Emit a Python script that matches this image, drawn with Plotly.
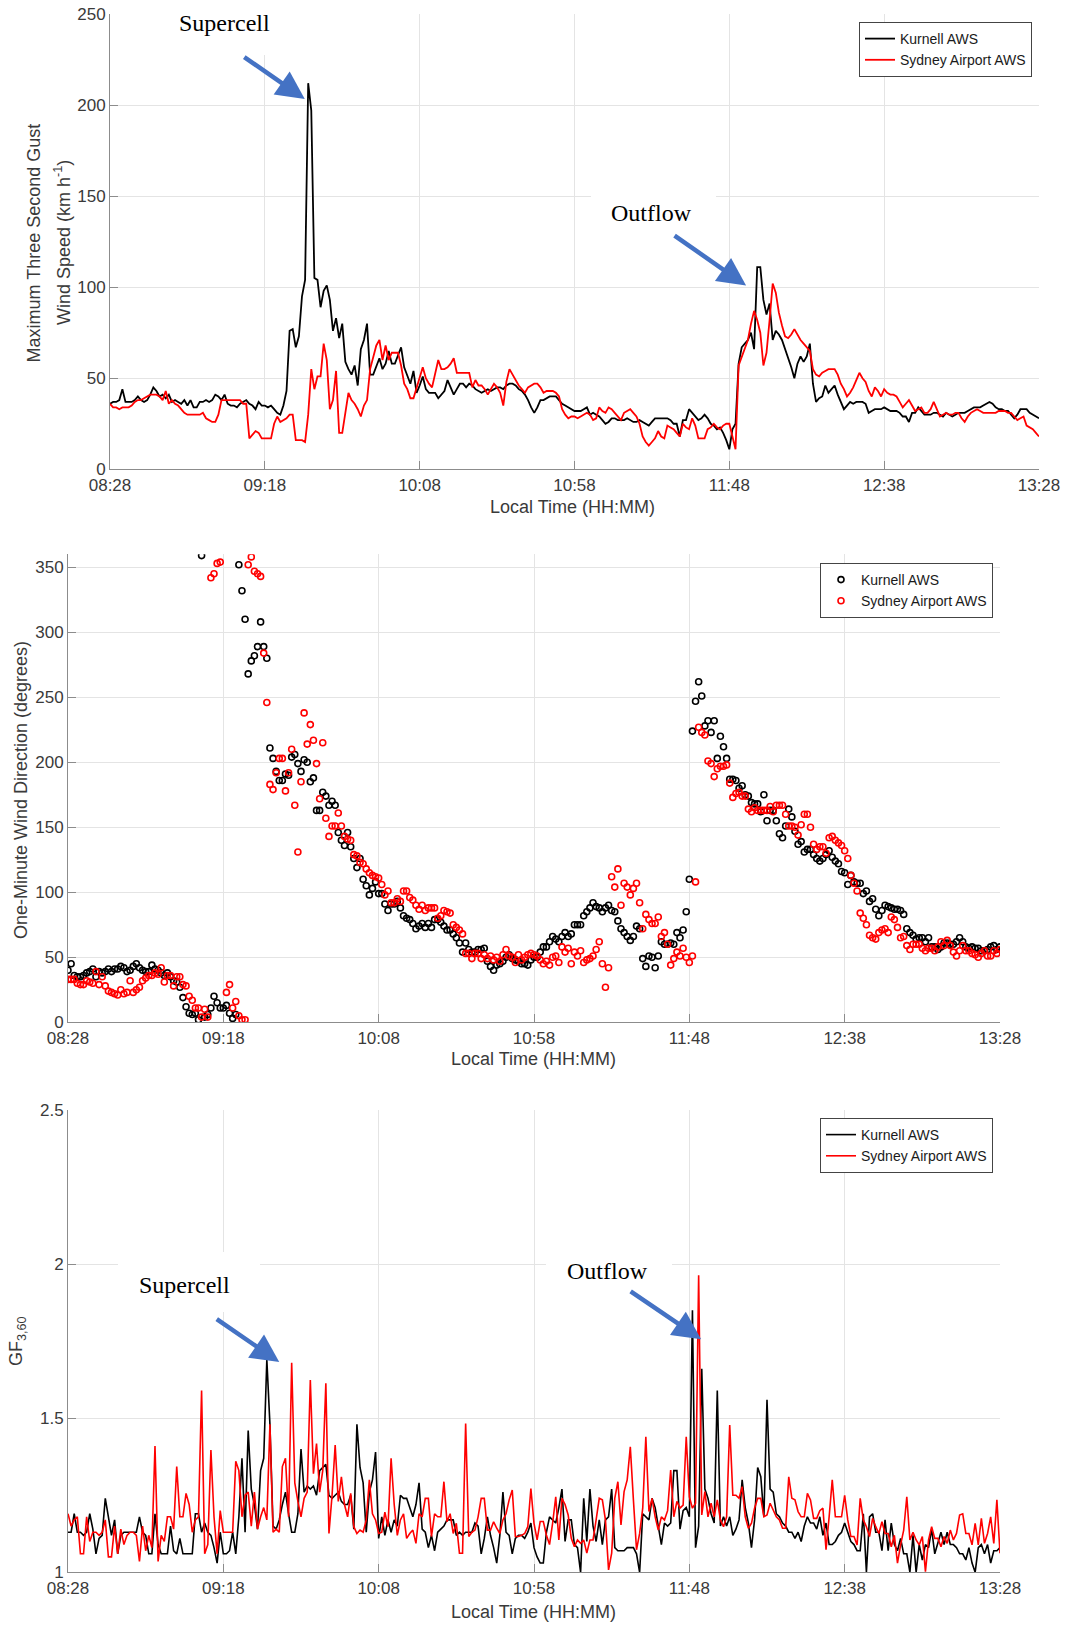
import plotly.graph_objects as go

W, H = 1066, 1629

# ---------------- data (one value per minute, 08:28 .. 13:28) ----------------
minutes = list(range(301))
tick_vals = [0, 50, 100, 150, 200, 250, 300]
tick_text = ["08:28", "09:18", "10:08", "10:58", "11:48", "12:38", "13:28"]

kurnell_gust = [
    36, 37, 37, 38, 44, 37, 37, 37, 38, 40,
    38, 37, 38, 41, 45, 43, 40, 41, 39, 41,
    37, 38, 37, 36, 38, 35, 38, 34, 34, 37,
    37, 38, 37, 38, 41, 40, 38, 41, 36, 35,
    35, 34, 36, 37, 38, 36, 35, 33, 37, 35,
    35, 34, 35, 33, 31, 30, 35, 43, 76, 77,
    67, 73, 95, 104, 212, 197, 105, 104, 89, 98,
    101, 93, 76, 83, 72, 80, 59, 55, 52, 57,
    46, 66, 71, 80, 52, 52, 56, 61, 55, 58,
    65, 58, 58, 62, 67, 56, 52, 47, 54, 42,
    46, 51, 44, 42, 42, 42, 39, 41, 43, 49,
    45, 41, 44, 47, 47, 45, 47, 46, 44, 43,
    42, 43, 44, 43, 44, 45, 45, 44, 46, 47,
    47, 46, 44, 43, 41, 38, 34, 31, 34, 38,
    38, 39, 40, 40, 40, 38, 36, 35, 34, 33,
    32, 32, 32, 33, 34, 30, 31, 30, 29, 27,
    25, 26, 28, 28, 27, 27, 27, 28, 27, 26,
    26, 27, 26, 25, 24, 26, 28, 28, 28, 28,
    28, 27, 25, 25, 18, 27, 27, 33, 31, 29,
    27, 28, 30, 28, 25, 24, 22, 23, 20, 16,
    11, 22, 25, 58, 67, 69, 71, 75, 66, 111,
    111, 93, 85, 91, 71, 76, 74, 71, 66, 62,
    56, 50, 58, 62, 59, 62, 69, 47, 37, 39,
    40, 46, 42, 44, 46, 41, 37, 33, 35, 37,
    36, 37, 37, 37, 36, 31, 32, 33, 33, 33,
    34, 33, 32, 32, 32, 31, 29, 29, 26, 31,
    31, 34, 32, 30, 30, 30, 31, 31, 30, 29,
    31, 30, 29, 30, 31, 31, 31, 32, 33, 34,
    34, 34, 35, 36, 37, 36, 34, 33, 33, 32,
    32, 30, 28, 30, 33, 33, 33, 31, 30, 29,
    28,
]

sydney_gust = [
    36, 34, 34, 33, 34, 34, 34, 35, 37, 38,
    38, 39, 40, 41, 41, 41, 40, 38, 43, 36,
    38, 36, 35, 33, 31, 30, 30, 30, 30, 30,
    31, 28, 27, 26, 26, 30, 38, 38, 38, 38,
    38, 38, 38, 36, 36, 17, 19, 21, 20, 17,
    17, 17, 17, 25, 29, 26, 27, 28, 30, 30,
    16, 16, 16, 15, 30, 55, 44, 51, 51, 69,
    60, 33, 38, 54, 20, 20, 30, 42, 38, 36,
    33, 29, 35, 38, 55, 62, 68, 71, 60, 68,
    60, 64, 64, 64, 57, 47, 44, 39, 39, 45,
    50, 56, 50, 47, 45, 52, 60, 55, 55, 56,
    58, 61, 53, 53, 53, 53, 53, 45, 49, 46,
    46, 44, 41, 44, 47, 45, 42, 35, 48, 55,
    52, 49, 46, 44, 42, 45, 46, 47, 47, 45,
    42, 43, 43, 43, 42, 40, 33, 30, 28, 29,
    29, 28, 29, 30, 31, 30, 27, 28, 34, 32,
    31, 34, 33, 31, 29, 27, 31, 32, 33, 31,
    29, 25, 18, 15, 13, 15, 17, 21, 18, 17,
    24, 23, 22, 20, 18, 25, 23, 22, 28, 24,
    17, 17, 17, 22, 23, 25, 23, 22, 24, 25,
    25, 18, 11, 57, 62, 67, 71, 80, 87, 82,
    75, 57, 64, 82, 102, 97, 86, 79, 73, 72,
    74, 77, 74, 71, 69, 67, 65, 55, 52, 51,
    53, 54, 55, 55, 55, 52, 47, 44, 40, 42,
    45, 49, 53, 50, 48, 43, 40, 45, 43, 40,
    44, 42, 41, 41, 40, 37, 34, 36, 38, 35,
    32, 33, 34, 31, 31, 33, 37, 33, 29, 30,
    31, 30, 30, 31, 31, 28, 26, 29, 31, 32,
    33, 32, 31, 31, 31, 31, 31, 32, 32, 32,
    31, 31, 29, 27, 28, 29, 24, 23, 22, 20,
    18,
]

kurnell_dir = [
    40, 45, 36, 35, 35, 36, 38, 39, 41, 35,
    39, 38, 39, 41, 39, 41, 41, 43, 42, 39,
    40, 43, 45, 42, 40, 39, 39, 44, 41, 40,
    38, 36, 38, 35, 32, 31, 27, 19, 12, 7,
    6, 7, 2, 359, 4, 6, 11, 20, 15, 11,
    11, 13, 7, 3, 6, 352, 332, 310, 268, 278,
    282, 289, 308, 289, 280, 211, 203, 193, 186, 186,
    191, 190, 204, 206, 199, 193, 202, 200, 185, 188,
    163, 163, 177, 174, 167, 170, 167, 146, 140, 136,
    146, 135, 126, 119, 126, 110, 105, 98, 103, 108,
    99, 99, 91, 86, 91, 91, 93, 88, 82, 80,
    79, 76, 72, 74, 76, 73, 76, 73, 79, 79,
    77, 74, 71, 71, 68, 65, 61, 54, 61, 56,
    54, 54, 56, 56, 57, 47, 43, 40, 44, 45,
    47, 50, 52, 49, 48, 47, 45, 45, 44, 48,
    50, 50, 54, 58, 58, 62, 66, 64, 62, 66,
    69, 66, 68, 75, 75, 75, 82, 85, 88, 92,
    89, 88, 85, 88, 90, 86, 85, 78, 72, 69,
    66, 63, 66, 74, 72, 49, 43, 51, 50, 42,
    51, 62, 60, 60, 61, 60, 69, 65, 71, 85,
    110, 224, 247, 262, 251, 228, 232, 223, 232, 203,
    220, 212, 203, 187, 187, 186, 180, 182, 175, 174,
    169, 168, 168, 162, 175, 155, 163, 163, 155, 145,
    142, 151, 164, 158, 147, 137, 139, 131, 133, 133,
    129, 126, 124, 126, 129, 132, 127, 124, 122, 116,
    115, 106, 113, 108, 107, 107, 99, 101, 93, 95,
    87, 82, 86, 90, 89, 88, 87, 87, 86, 83,
    72, 69, 67, 64, 65, 65, 62, 65, 58, 58,
    56, 58, 61, 61, 60, 60, 62, 65, 62, 58,
    57, 58, 57, 57, 55, 55, 56, 58, 59, 56,
    58,
]

sydney_dir = [
    33, 33, 33, 30, 29, 29, 32, 31, 30, 39,
    29, 35, 28, 24, 23, 22, 21, 25, 22, 23,
    32, 23, 25, 27, 32, 34, 36, 36, 38, 37,
    42, 31, 36, 36, 28, 35, 35, 29, 28, 20,
    17, 11, 11, 4, 10, 4, 342, 345, 353, 354,
    None, 23, 29, 11, 16, 5, 2, 2, 352, 358,
    347, 345, 343, 284, 246, 183, 179, 192, 203, 203,
    178, 192, 210, 167, 131, 185, 238, 214, 229, 217,
    199, 172, 215, 157, 143, 151, 151, 161, 151, 143,
    141, 140, 129, 128, 123, 122, 118, 115, 113, 112,
    111, 106, 98, 101, 92, 92, 95, 93, 101, 101,
    96, 94, 90, 87, 90, 86, 88, 88, 88, 80,
    82, 86, 85, 84, 75, 73, 71, 68, 53, 53,
    49, 53, 53, 49, 52, 49, 51, 48, 50, 47,
    52, 56, 51, 50, 46, 52, 48, 50, 52, 53,
    52, 51, 48, 45, 47, 44, 50, 51, 46, 58,
    54, 57, 45, 54, 51, 55, 46, 48, 49, 51,
    56, 62, 45, 27, 42, 112, 104, 118, 90, 107,
    104, 98, 103, 107, 92, 72, 83, 79, 76, 76,
    81, 66, 69, 60, 44, 49, 54, 51, 57, 50,
    46, 51, 108, 227, 223, 221, 201, 199, 189, 195,
    197, 197, 198, 184, 173, 176, 177, 174, 174, 164,
    162, 165, 163, 163, 163, 163, 166, 162, 167, 167,
    167, 160, 151, 151, 150, 144, 152, 160, 160, 150,
    137, 133, 135, 135, 130, 142, 143, 140, 138, 136,
    132, 126, 113, 107, 101, 84, 80, 75, 67, 65,
    64, 69, 71, 72, 69, 81, 79, 73, 65, 66,
    59, 56, 60, 60, 60, 57, 55, 57, 57, 55,
    58, 62, 59, 63, 59, 54, 51, 55, 59, 55,
    55, 53, 52, 50, 53, 55, 51, 51, 55, 53,
    56,
]

kurnell_gf = [
    1.13, 1.13, 1.19, 1.13, 1.13, 1.12, 1.13, 1.19, 1.14, 1.06,
    1.11, 1.12, 1.24, 1.18, 1.12, 1.17, 1.06, 1.12, 1.13, 1.13,
    1.13, 1.13, 1.13, 1.18, 1.13, 1.12, 1.06, 1.06, 1.19, 1.09,
    1.06, 1.06, 1.06, 1.15, 1.07, 1.06, 1.11, 1.06, 1.06, 1.06,
    1.06, 1.19, 1.19, 1.13, 1.16, 1.13, 1.12, 1.08, 1.03, 1.13,
    1.06, 1.06, 1.07, 1.13, 1.06, 1.18, 1.37, 1.13, 1.46, 1.27,
    1.22, 1.14, 1.33, 1.37, 1.69, 1.48, 1.15, 1.14, 1.17, 1.22,
    1.26, 1.19, 1.13, 1.13, 1.19, 1.40, 1.26, 1.28, 1.27, 1.28,
    1.25, 1.33, 1.34, 1.35, 1.25, 1.24, 1.25, 1.26, 1.23, 1.22,
    1.22, 1.25, 1.14, 1.48, 1.34, 1.29, 1.13, 1.26, 1.30, 1.39,
    1.11, 1.18, 1.12, 1.17, 1.13, 1.17, 1.15, 1.25, 1.24, 1.24,
    1.21, 1.18, 1.22, 1.29, 1.14, 1.13, 1.08, 1.12, 1.07, 1.13,
    1.14, 1.15, 1.17, 1.17, 1.17, 1.12, 1.13, 1.12, 1.13, 1.13,
    1.13, 1.16, 1.15, 1.06, 1.11, 1.18, 1.12, 1.08, 1.03, 1.12,
    1.26, 1.13, 1.12, 1.06, 1.11, 1.12, 1.12, 1.11, 1.13, 1.16,
    1.08, 1.05, 1.03, 1.03, 1.13, 1.18, 1.17, 1.16, 1.21, 1.27,
    1.10, 1.17, 1.17, 1.09, 1.08, 1.00, 1.24, 1.10, 1.27, 1.15,
    1.10, 1.17, 1.09, 1.17, 1.18, 1.27, 1.08, 1.07, 1.07, 1.07,
    1.08, 1.08, 1.08, 1.06, 1.00, 1.19, 1.18, 1.17, 1.24, 1.21,
    1.15, 1.09, 1.16, 1.15, 1.16, 1.33, 1.33, 1.14, 1.20, 1.21,
    1.18, 1.85, 1.08, 1.15, 1.66, 1.27, 1.24, 1.19, 1.16, 1.59,
    1.15, 1.18, 1.15, 1.18, 1.12, 1.14, 1.17, 1.30, 1.21, 1.16,
    1.08, 1.17, 1.34, 1.31, 1.18, 1.56, 1.27, 1.26, 1.19, 1.18,
    1.16, 1.15, 1.13, 1.13, 1.11, 1.13, 1.10, 1.15, 1.18, 1.16,
    1.16, 1.14, 1.18, 1.12, 1.16, 1.09, 1.09, 1.10, 1.12, 1.13,
    1.16, 1.13, 1.10, 1.09, 1.07, 1.07, 1.19, 1.00, 1.18, 1.19,
    1.13, 1.13, 1.07, 1.17, 1.07, 1.16, 1.09, 1.07, 1.11, 1.06,
    1.06, 1.00, 1.12, 1.00, 1.09, 1.04, 1.09, 1.08, 1.14, 1.06,
    1.10, 1.13, 1.09, 1.13, 1.09, 1.09, 1.08, 1.06, 1.06, 1.04,
    1.08, 1.03, 1.00, 1.08, 1.09, 1.06, 1.09, 1.03, 1.07, 1.07,
    1.08,
]

sydney_gf = [
    1.19, 1.15, 1.17, 1.18, 1.06, 1.06, 1.18, 1.10, 1.13, 1.13,
    1.12, 1.13, 1.17, 1.05, 1.05, 1.15, 1.06, 1.14, 1.09, 1.12,
    1.13, 1.13, 1.12, 1.035, 1.15, 1.07, 1.12, 1.08, 1.41, 1.035,
    1.12, 1.10, 1.18, 1.18, 1.14, 1.343, 1.18, 1.18, 1.256, 1.22,
    1.13, 1.17, 1.18, 1.59, 1.06, 1.09, 1.397, 1.18, 1.06, 1.20,
    1.13, 1.13, 1.13, 1.13, 1.36, 1.33, 1.18, 1.25, 1.26, 1.15,
    1.26, 1.14, 1.18, 1.21, 1.17, 1.48, 1.13, 1.14, 1.13, 1.343,
    1.37, 1.18, 1.68, 1.29, 1.23, 1.18, 1.24, 1.26, 1.624, 1.32,
    1.418, 1.26, 1.33, 1.613, 1.126, 1.25, 1.413, 1.23, 1.31, 1.22,
    1.18, 1.256, 1.148, 1.126, 1.137, 1.13, 1.17, 1.30, 1.19, 1.17,
    1.126, 1.13, 1.195, 1.148, 1.37, 1.22, 1.12, 1.17, 1.19, 1.11,
    1.126, 1.137, 1.094, 1.19, 1.18, 1.24, 1.24, 1.116, 1.19, 1.18,
    1.18, 1.294, 1.164, 1.19, 1.126, 1.159, 1.062, 1.062, 1.483, 1.116,
    1.13, 1.137, 1.18, 1.24, 1.24, 1.137, 1.137, 1.164, 1.143, 1.126,
    1.17, 1.19, 1.235, 1.267, 1.116, 1.116, 1.12, 1.126, 1.148, 1.272,
    1.159, 1.105, 1.165, 1.165, 1.12, 1.09, 1.16, 1.245, 1.105, 1.24,
    1.22, 1.186, 1.11, 1.083, 1.105, 1.094, 1.105, 1.062, 1.105, 1.105,
    1.17, 1.24, 1.235, 1.17, 1.008, 1.062, 1.24, 1.294, 1.154, 1.262,
    1.30, 1.407, 1.235, 1.073, 1.126, 1.208, 1.44, 1.197, 1.24, 1.18,
    1.137, 1.18, 1.17, 1.20, 1.332, 1.18, 1.23, 1.208, 1.218, 1.44,
    1.245, 1.208, 1.224, 1.964, 1.186, 1.262, 1.18, 1.224, 1.18, 1.235,
    1.17, 1.148, 1.18, 1.478, 1.25, 1.25, 1.24, 1.278, 1.18, 1.143,
    1.159, 1.208, 1.24, 1.24, 1.18, 1.186, 1.224, 1.20, 1.18, 1.17,
    1.143, 1.143, 1.31, 1.24, 1.235, 1.197, 1.18, 1.18, 1.256, 1.235,
    1.175, 1.175, 1.20, 1.208, 1.073, 1.18, 1.30, 1.18, 1.18, 1.18,
    1.25, 1.17, 1.116, 1.116, 1.089, 1.24, 1.17, 1.148, 1.116, 1.175,
    1.148, 1.126, 1.164, 1.126, 1.126, 1.083, 1.12, 1.03, 1.089, 1.137,
    1.245, 1.105, 1.13, 1.105, 1.089, 1.116, 1.002, 1.105, 1.148, 1.11,
    1.11, 1.083, 1.116, 1.094, 1.137, 1.105, 1.126, 1.186, 1.19, 1.126,
    1.126, 1.089, 1.159, 1.089, 1.175, 1.094, 1.126, 1.18, 1.094, 1.235,
    1.062,
]

for arr in (kurnell_gust, sydney_gust, kurnell_dir, sydney_dir, kurnell_gf, sydney_gf):
    assert len(arr) == len(minutes), len(arr)

# ---------------- helpers ----------------
def px(xp):
    return xp / W


def py(yp):
    return 1 - yp / H


SANS = "Liberation Sans, Arial, sans-serif"
SERIF = "Liberation Serif, Times New Roman, serif"
AXIS_COL = "#8c8c8c"
GRID_COL = "#e4e4e4"
TICK_FONT = dict(family=SANS, size=17, color="#3a3a3a")
BLACK = "#000000"
RED = "#ff0000"
ARROW = "#4472C4"

fig = go.Figure()

# top: gust
fig.add_trace(go.Scatter(x=minutes, y=kurnell_gust, mode="lines", name="Kurnell AWS",
                         line=dict(color=BLACK, width=1.8), xaxis="x", yaxis="y", legend="legend"))
fig.add_trace(go.Scatter(x=minutes, y=sydney_gust, mode="lines", name="Sydney Airport AWS",
                         line=dict(color=RED, width=1.8), xaxis="x", yaxis="y", legend="legend"))
# middle: direction
fig.add_trace(go.Scatter(x=minutes, y=kurnell_dir, mode="markers", name="Kurnell AWS",
                         marker=dict(symbol="circle-open", size=6, color=BLACK, line=dict(width=1.6)),
                         xaxis="x2", yaxis="y2", legend="legend2"))
fig.add_trace(go.Scatter(x=minutes, y=sydney_dir, mode="markers", name="Sydney Airport AWS",
                         marker=dict(symbol="circle-open", size=6, color=RED, line=dict(width=1.6)),
                         xaxis="x2", yaxis="y2", legend="legend2"))
# bottom: gust factor
fig.add_trace(go.Scatter(x=minutes, y=kurnell_gf, mode="lines", name="Kurnell AWS",
                         line=dict(color=BLACK, width=1.6), xaxis="x3", yaxis="y3", legend="legend3"))
fig.add_trace(go.Scatter(x=minutes, y=sydney_gf, mode="lines", name="Sydney Airport AWS",
                         line=dict(color=RED, width=1.6), xaxis="x3", yaxis="y3", legend="legend3"))

axis_common = dict(showline=True, linecolor=AXIS_COL, linewidth=1, ticks="inside", ticklen=8,
                   tickcolor=AXIS_COL, tickwidth=1, showgrid=True, gridcolor=GRID_COL, gridwidth=1,
                   zeroline=False, tickfont=TICK_FONT, mirror=False, fixedrange=True,
                   automargin=False)

xcommon = dict(axis_common, range=[0, 300], tickmode="array", tickvals=tick_vals, ticktext=tick_text)

top_dom_x = [px(110), px(1039)]
low_dom_x = [px(68), px(1000)]

fig.update_layout(
    template="none",
    width=W, height=H, autosize=False,
    margin=dict(l=0, r=0, t=0, b=0, pad=0, autoexpand=False),
    paper_bgcolor="white", plot_bgcolor="white",
    font=dict(family=SANS),
    xaxis=dict(xcommon, domain=top_dom_x, anchor="y"),
    yaxis=dict(axis_common, domain=[py(469.3), py(14)], range=[0, 250], anchor="x",
               tickmode="array", tickvals=[0, 50, 100, 150, 200, 250]),
    xaxis2=dict(xcommon, domain=low_dom_x, anchor="y2"),
    yaxis2=dict(axis_common, domain=[py(1022.3), py(554.3)], range=[0, 360], anchor="x2",
                tickmode="array", tickvals=[0, 50, 100, 150, 200, 250, 300, 350]),
    xaxis3=dict(xcommon, domain=low_dom_x, anchor="y3"),
    yaxis3=dict(axis_common, domain=[py(1572.3), py(1110)], range=[1, 2.5], anchor="x3",
                tickmode="array", tickvals=[1, 1.5, 2, 2.5], ticktext=["1", "1.5", "2", "2.5"]),
    showlegend=True,
)

leg_common = dict(xanchor="left", yanchor="top", bgcolor="white", bordercolor="#444444",
                  borderwidth=1, font=dict(family=SANS, size=14, color="#1a1a1a"),
                  tracegroupgap=0, itemwidth=30)
fig.update_layout(
    legend=dict(leg_common, x=px(859), y=py(22)),
    legend2=dict(leg_common, x=px(820), y=py(563)),
    legend3=dict(leg_common, x=px(820), y=py(1118)),
)

# white label boxes that hide the grid behind the annotation texts
for x0, x1, y0, y1 in [(158, 300, 0, 55), (591, 716, 188, 234),
                       (118, 260, 1252, 1312), (546, 672, 1250, 1296)]:
    fig.add_shape(type="rect", xref="paper", yref="paper", x0=px(x0), x1=px(x1),
                  y0=py(y1), y1=py(y0), fillcolor="white", line=dict(width=0), layer="above")

ann = []
# event labels
for text, xc, yc in [("Supercell", 224, 23), ("Outflow", 651, 213),
                     ("Supercell", 184, 1285), ("Outflow", 607, 1271)]:
    ann.append(dict(text=text, x=px(xc), y=py(yc), xref="paper", yref="paper",
                    xanchor="center", yanchor="middle", showarrow=False,
                    font=dict(family=SERIF, size=24, color="black")))
# arrows (tip in data coordinates, tail offset in pixels)
for xa, ya, xv, yv, dx, dy in [("x", "y", 62.9, 203.3, -62, -43),
                               ("x", "y", 205.4, 100.9, -73, -51),
                               ("x3", "y3", 68.0, 1.682, -64, -44),
                               ("x3", "y3", 203.8, 1.756, -72, -49)]:
    ann.append(dict(text="", x=xv, y=yv, xref=xa, yref=ya, ax=dx, ay=dy,
                    showarrow=True, arrowhead=2, arrowsize=1.25, arrowwidth=4.5,
                    arrowcolor=ARROW, standoff=0))
# axis titles
TFONT = dict(family=SANS, size=18, color="#3a3a3a")
for text, xc, yc, ang in [("Maximum Three Second Gust", 34.4, 243, -90),
                          ("Wind Speed (km h<sup>-1</sup>)", 63, 243, -90),
                          ("One-Minute Wind Direction (degrees)", 21, 790, -90),
                          ("GF<sub>3,60</sub>", 17, 1341, -90),
                          ("Local Time (HH:MM)", 572, 507.5, 0),
                          ("Local Time (HH:MM)", 533, 1058.5, 0),
                          ("Local Time (HH:MM)", 533, 1612, 0)]:
    ann.append(dict(text=text, x=px(xc), y=py(yc), xref="paper", yref="paper",
                    xanchor="center", yanchor="middle", showarrow=False,
                    textangle=ang, font=TFONT))
fig.update_layout(annotations=ann)

fig.write_html("out.html", config={"displayModeBar": False},
               post_script="document.body.style.margin='0px';document.body.style.overflow='hidden';")
